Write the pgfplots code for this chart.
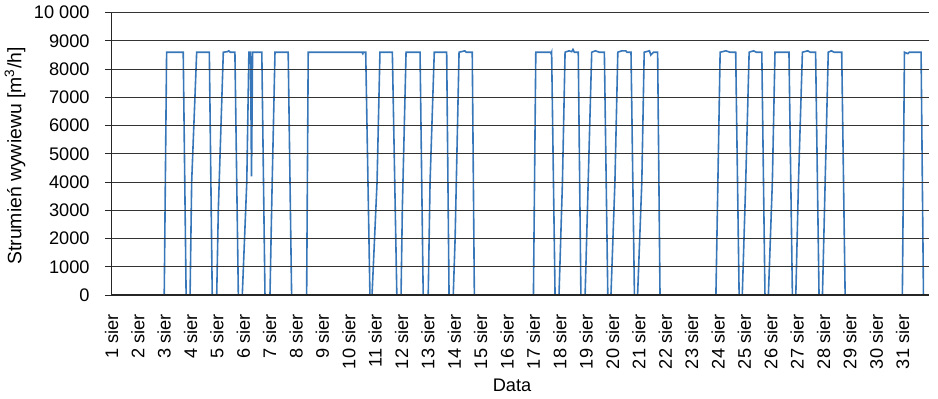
\documentclass[border=0pt]{standalone}
\usepackage{fontspec}
\setmainfont{Liberation Sans}
\usepackage{pgfplots}
\pgfplotsset{compat=1.18}
\definecolor{lineblue}{RGB}{55,118,185}
\begin{document}
\begin{tikzpicture}
\begin{axis}[
  at={(0,0)}, anchor=south west,
  scale only axis, width=408.75pt, height=141.15pt,
  xmin=1, xmax=32, ymin=0, ymax=10000,
  scaled y ticks=false, scaled x ticks=false,
  axis x line*=bottom, axis y line*=left,
  axis line style={black!85, line width=0.6pt, -},
  ymajorgrids, grid style={black!80, line width=0.5pt},
  ytick={0,1000,...,10000},
  yticklabels={0,1000,2000,3000,4000,5000,6000,7000,8000,9000,10 000},
  xtick={1,...,31},
  xticklabels={1 sier,2 sier,3 sier,4 sier,5 sier,6 sier,7 sier,8 sier,9 sier,10 sier,11 sier,12 sier,13 sier,14 sier,15 sier,16 sier,17 sier,18 sier,19 sier,20 sier,21 sier,22 sier,23 sier,24 sier,25 sier,26 sier,27 sier,28 sier,29 sier,30 sier,31 sier},
  x tick label style={yshift=-6.5pt, rotate=90, anchor=east, inner sep=0pt},
  y tick label style={anchor=east, inner sep=0pt, xshift=-7.75pt},
  tick align=outside, major tick length=3pt,
  xtick style={draw=none},
  ytick style={black!85, line width=0.5pt},
  font=\fontsize{9.1}{11}\selectfont,
  xlabel={Data},
  ylabel={Strumień wywiewu [m\textsuperscript{3}/h]},
  xlabel style={at={([xshift=200.25pt,yshift=-45pt]axis description cs:0,0)}, anchor=center},
  ylabel style={at={([xshift=-48.25pt,yshift=-1pt]axis description cs:0,0.5)}, anchor=center, font=\fontsize{9.7}{11}\selectfont},
  axis on top,
]
\addplot[lineblue, line width=0.8pt] coordinates {
(1,0)
(3.00,0)(3.09,8600)(3.72,8600)(3.83,0)
(3.98,0)(4.04,4000)(4.23,8600)(4.71,8600)(4.82,0)
(4.99,0)(5.05,3000)(5.24,8600)(5.40,8620)(5.45,8650)(5.50,8600)(5.68,8600)(5.81,0)
(5.96,0)(6.13,4000)(6.21,8600)(6.27,8600)(6.31,4200)(6.35,8600)(6.70,8600)(6.82,0)
(7.01,0)(7.08,3400)(7.20,8600)(7.70,8600)(7.83,0)
(8.40,0)(8.46,8600)(10.50,8600)(10.53,8550)(10.55,8600)(10.64,8600)(10.80,0)
(10.88,0)(11.07,4000)(11.18,8600)(11.65,8600)(11.82,0)
(11.98,0)(12.03,3100)(12.17,8600)(12.70,8600)(12.82,0)
(13.01,0)(13.08,4000)(13.24,8600)(13.71,8600)(13.80,0)
(13.96,0)(14.03,2000)(14.18,8600)(14.40,8650)(14.45,8600)(14.68,8600)(14.76,0)
(17.00,0)(17.09,8600)(17.65,8600)(17.67,8550)(17.69,8600)(17.82,0)
(17.97,0)(18.10,4000)(18.20,8600)(18.35,8650)(18.45,8620)(18.50,8700)(18.55,8600)(18.70,8600)(18.80,0)
(18.96,0)(19.21,8600)(19.35,8650)(19.50,8600)(19.69,8600)(19.82,0)
(19.94,0)(20.09,4000)(20.20,8600)(20.35,8650)(20.50,8650)(20.55,8600)(20.70,8600)(20.83,0)
(20.95,0)(21.11,4000)(21.20,8600)(21.40,8650)(21.45,8500)(21.55,8600)(21.71,8600)(21.80,0)
(23.92,0)(24.08,8600)(24.30,8650)(24.45,8600)(24.67,8600)(24.80,0)
(24.92,0)(25.05,4000)(25.18,8600)(25.35,8650)(25.45,8600)(25.66,8600)(25.78,0)
(25.91,0)(26.06,4000)(26.16,8600)(26.69,8600)(26.82,0)
(26.95,0)(27.05,4000)(27.20,8600)(27.40,8650)(27.50,8600)(27.70,8600)(27.83,0)
(27.96,0)(28.18,8600)(28.30,8650)(28.40,8600)(28.69,8600)(28.82,0)
(30.99,0)(31.07,8600)(31.20,8550)(31.25,8600)(31.70,8600)(31.79,0)
(31.9,0)
};
\end{axis}
\pgfresetboundingbox
\path[use as bounding box] (-55.75pt,-51.5pt) rectangle (413.25pt,147.5pt);
\end{tikzpicture}
\end{document}
